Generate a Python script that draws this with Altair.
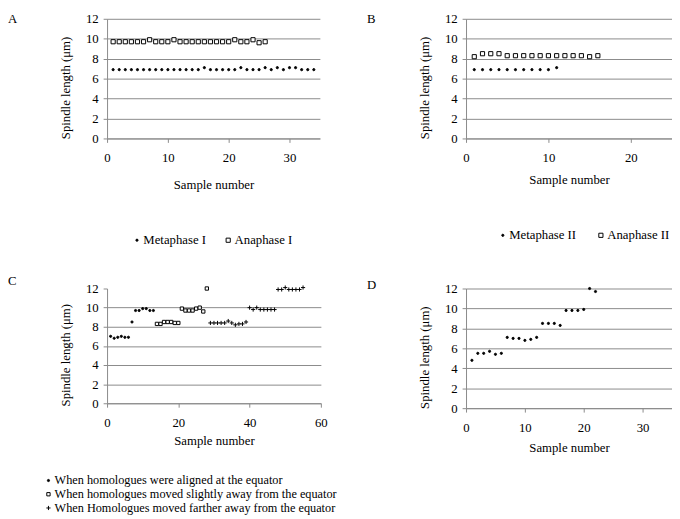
import altair as alt
import pandas as pd

FONT = "Liberation Serif"
CROSS = "M-1,0L1,0M0,-1L0,1"

# ---------------- data ----------------
a_meta = [6.9, 6.9, 6.9, 6.9, 6.9, 6.9, 6.9, 6.9, 6.9, 6.9, 6.9, 6.9, 6.9, 6.9, 6.9,
          7.1, 6.9, 6.9, 6.9, 6.9, 6.9, 7.1, 6.9, 6.9, 6.9, 7.1, 6.9, 7.1, 6.9, 7.1,
          7.1, 6.9, 6.9, 6.9]
a_ana = [9.7, 9.7, 9.7, 9.7, 9.7, 9.7, 9.9, 9.7, 9.7, 9.7, 9.9, 9.7, 9.7, 9.7, 9.7,
         9.7, 9.7, 9.7, 9.7, 9.7, 9.9, 9.7, 9.7, 9.9, 9.6, 9.7]

b_meta = [6.9, 6.9, 6.9, 6.9, 6.9, 6.9, 6.9, 6.9, 6.9, 6.9, 7.1]
b_ana = [8.2, 8.5, 8.5, 8.5, 8.3, 8.3, 8.3, 8.3, 8.3, 8.3, 8.3, 8.3, 8.3, 8.3, 8.2, 8.3]

c_aligned = [7.0, 6.8, 6.9, 7.0, 6.9, 6.9, 8.5, 9.7, 9.7, 9.9, 9.9, 9.7, 9.7]
c_slight = [8.3, 8.3, 8.5, 8.5, 8.5, 8.4, 8.4, 9.9, 9.7, 9.7, 9.7, 9.9, 10.0, 9.6, 12.0]
c_farther = [8.4, 8.4, 8.4, 8.4, 8.4, 8.6, 8.4, 8.2, 8.3, 8.3, 8.5,
             10.0, 9.8, 10.0, 9.8, 9.8, 9.8, 9.8, 9.8,
             11.9, 11.9, 12.1, 11.9, 11.9, 11.9, 11.9, 12.1]

d_vals = [4.8, 5.5, 5.5, 5.7, 5.4, 5.5, 7.1, 7.0, 7.0, 6.8, 6.9, 7.1,
          8.5, 8.5, 8.5, 8.3, 9.8, 9.8, 9.8, 9.9, 12.0, 11.7]

a_names = ["Metaphase I", "Anaphase I"]
b_names = ["Metaphase II", "Anaphase II"]
c_names = ["When homologues were aligned at the equator",
           "When homologues moved slightly away from the equator",
           "When Homologues moved farther away from the equator"]
d_names = ["Spindle length"]

y_ticks = [0, 2, 4, 6, 8, 10, 12]


def build_df(series_lists, names, start_x=None):
    rows = []
    for vals, name, sx in zip(series_lists, names, start_x or [1] * len(names)):
        x = sx
        for v in vals:
            rows.append({"x": x, "y": v, "s": name})
            x += 1
    return pd.DataFrame(rows)


df_a = build_df([a_meta, a_ana], a_names)
df_b = build_df([b_meta, b_ana], b_names)
df_c = build_df([c_aligned, c_slight, c_farther], c_names, [1, 14, 29])
df_d = build_df([d_vals], d_names)

axis_font = dict(labelFont=FONT, titleFont=FONT, labelFontSize=13, titleFontSize=13,
                 titleFontWeight="normal", labelColor="black", titleColor="black",
                 labelFlush=False)


def panel(df, letter, names, shapes, fills, sizes, xmax, xticks, w, h,
          xtitle_y, legend=None, c_grid=False, title_off=-8):
    grid_op = 1
    if c_grid:
        grid_op = {"condition": {"test": "datum.value >= 12", "value": 0}, "value": 1}
    x = alt.X("x:Q",
              scale=alt.Scale(domain=[0, xmax], nice=False, zero=True),
              axis=alt.Axis(values=xticks, title="Sample number", grid=False,
                            labelPadding=10, titleY=xtitle_y, titleBaseline="middle",
                            **axis_font))
    y = alt.Y("y:Q",
              scale=alt.Scale(domain=[0, 12], nice=False),
              axis=alt.Axis(values=y_ticks, title="Spindle length (μm)", grid=True,
                            gridOpacity=grid_op,
                            labelPadding=5, titleX=-42, titleY=h / 2 + 9,
                            titleBaseline="middle", titleAngle=-90, **axis_font))
    if legend is None:
        enc = dict(x=x, y=y, shape=alt.value("circle"), fill=alt.value("black"),
                   size=alt.value(sizes[0]), stroke=alt.value("black"),
                   strokeWidth=alt.value(1))
    else:
        leg = alt.Legend(title=None, orient="none", **legend)
        enc = dict(
            x=x, y=y,
            shape=alt.Shape("s:N", scale=alt.Scale(domain=names, range=shapes), legend=leg),
            fill=alt.Fill("s:N", scale=alt.Scale(domain=names, range=fills), legend=leg),
            stroke=alt.Stroke("s:N", scale=alt.Scale(domain=names,
                                                     range=["black"] * len(names)),
                              legend=leg),
            size=alt.Size("s:N", scale=alt.Scale(domain=names, range=sizes), legend=leg),
            strokeWidth=alt.value(1),
        )
    return alt.Chart(df).mark_point(filled=True, opacity=1).encode(**enc).properties(
        width=w, height=h,
        title=alt.TitleParams(text=letter, anchor="start", frame="group", orient="top",
                              offset=title_off, dx=-101, dy=0,
                              font=FONT, fontSize=13, fontWeight="normal", color="black"),
    )


leg_common = dict(labelLimit=0, symbolStrokeColor="black", symbolStrokeWidth=1,
                  labelFont=FONT, labelColor="black", labelOffset=0)

ch_a = panel(df_a, "A", a_names, ["circle", "square"], ["black", "white"], [5, 18],
             35, [0, 10, 20, 30], 217, 122, 47,
             legend=dict(legendX=24, legendY=219, direction="horizontal",
                         columnPadding=16, labelFontSize=13, **leg_common),
             title_off=-13)
ch_b = panel(df_b, "B", b_names, ["circle", "square"], ["black", "white"], [5, 18],
             25, [0, 10, 20], 210, 122, 42,
             legend=dict(legendX=31, legendY=214, direction="horizontal",
                         columnPadding=18, labelFontSize=13, **leg_common),
             title_off=-13)
ch_c = panel(df_c, "C", c_names, ["circle", "square", CROSS], ["black", "white", "black"],
             [5, 18, 30], 60, [0, 20, 40, 60], 218, 117, 38,
             legend=dict(legendX=-66, legendY=190, direction="vertical",
                         rowPadding=0, clipHeight=11.5, labelFontSize=12.5,
                         **leg_common),
             c_grid=True, title_off=-5)
ch_d = panel(df_d, "D", d_names, ["circle"], ["black"], [5],
             35, [0, 10, 20, 30], 210, 122, 40, legend=None, title_off=-9)

chart = alt.concat(ch_a, ch_b, ch_c, ch_d, columns=2, bounds="flush", align="each",
                   spacing={"row": 153, "column": 148}).resolve_scale(
    x="independent", y="independent", shape="independent", fill="independent",
    size="independent", stroke="independent",
).resolve_legend(
    shape="independent", fill="independent", size="independent", stroke="independent",
).properties(
    padding={"left": 0, "top": 0, "right": 0, "bottom": 0}
).configure(font=FONT).configure_view(stroke=None).configure_axis(
    domainColor="#8a8a8a", tickColor="#8a8a8a", gridColor="#8a8a8a", tickSize=4,
)

chart.save("out.html", embed_options={"renderer": "svg", "actions": False})
